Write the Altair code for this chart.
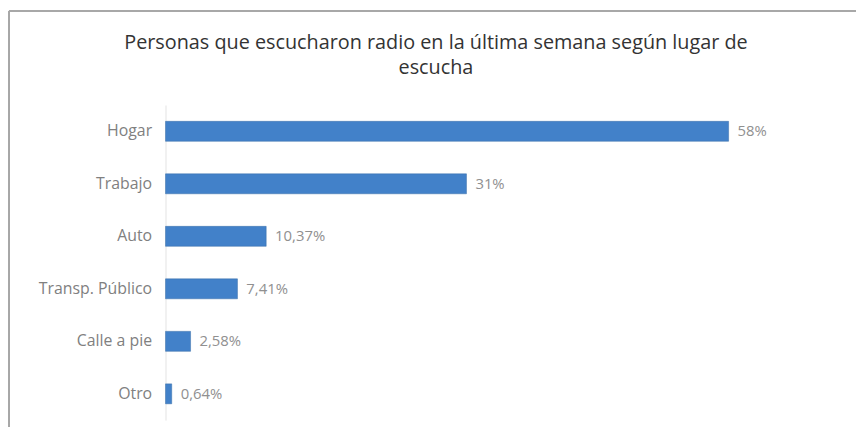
import altair as alt
import pandas as pd

categories = ["Hogar", "Trabajo", "Auto", "Transp. Público", "Calle a pie", "Otro"]
values = [58, 31, 10.37, 7.41, 2.58, 0.64]
labels = ["58%", "31%", "10,37%", "7,41%", "2,58%", "0,64%"]
title_lines = ["Personas que escucharon radio en la última semana según lugar de", "escucha"]

df = pd.DataFrame({"cat": categories, "val": values, "lab": labels})

FONT = "Open Sans"
y_enc = alt.Y("cat:N", sort=categories,
              scale=alt.Scale(paddingInner=0.62, paddingOuter=0.31),
              axis=alt.Axis(title=None, ticks=False, domain=True, domainColor="#e3e3e3",
                            labelColor="#808080", labelFont=FONT, labelFontSize=16,
                            labelPadding=14))
x_enc = alt.X("val:Q", scale=alt.Scale(domain=[0, 60], nice=False), axis=None)

bars = alt.Chart(df).mark_bar(color="#4281c9", stroke="#3a6ea8", strokeWidth=0.5).encode(
    x=x_enc, y=y_enc)
text = alt.Chart(df).mark_text(align="left", dx=9, font=FONT, fontSize=15,
                               color="#909090").encode(
    x=x_enc, y=alt.Y("cat:N", sort=categories), text="lab:N")

title1 = alt.Chart(pd.DataFrame({"t": [title_lines[0]]})).mark_text(
    font=FONT, fontSize=20, color="#333333", align="center", baseline="middle").encode(
    x=alt.value(273), y=alt.value(-63), text="t:N")
title2 = alt.Chart(pd.DataFrame({"t": [title_lines[1]]})).mark_text(
    font=FONT, fontSize=20, color="#333333", align="center", baseline="middle").encode(
    x=alt.value(273), y=alt.value(-37), text="t:N")

border_top = alt.Chart(df).mark_rule(color="#a8a8a8", strokeWidth=2).encode(
    x=alt.value(-158), x2=alt.value(700), y=alt.value(-95))
border_left = alt.Chart(df).mark_rule(color="#a8a8a8", strokeWidth=2).encode(
    x=alt.value(-158), y=alt.value(-95), y2=alt.value(340))

chart = alt.layer(border_top, border_left, bars, text, title1, title2).properties(
    width=588, height=318,
    autosize=alt.AutoSizeParams(type="none"),
    padding={"left": 159, "top": 96, "right": 109, "bottom": 5},
).configure_view(stroke=None)

chart.save("out.html", embed_options={"renderer": "svg", "actions": False})
